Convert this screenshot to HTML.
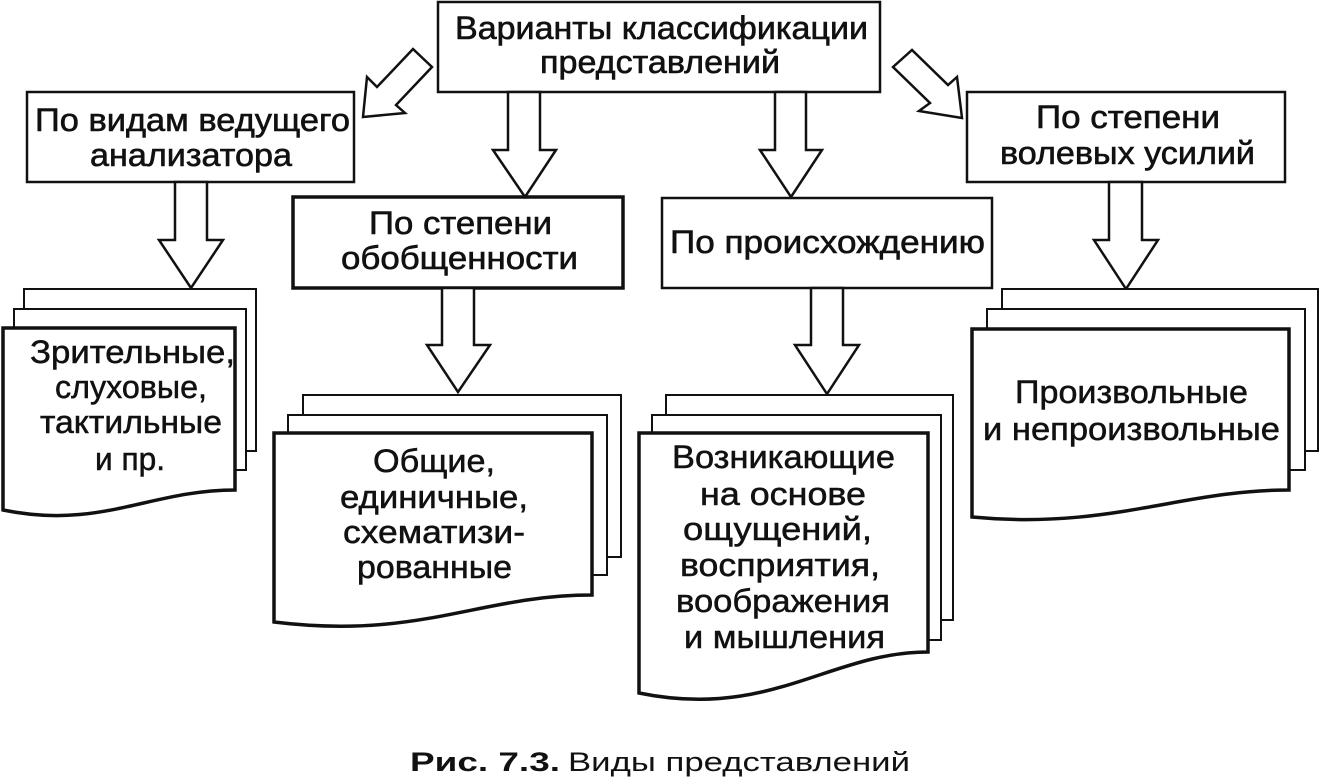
<!DOCTYPE html>
<html><head><meta charset="utf-8"><style>
html,body{margin:0;padding:0;background:#fff;}
svg{display:block;}
text{font-family:"Liberation Sans",Arial,sans-serif;fill:#111;}
</style></head><body>
<svg width="1320" height="780" viewBox="0 0 1320 780" xmlns="http://www.w3.org/2000/svg">
<g fill="#fff" stroke="#111" stroke-width="2.5" stroke-linejoin="miter">
<rect x="438" y="2" width="442" height="90"/>
<rect x="27" y="92" width="327" height="90"/>
<rect x="293" y="197" width="330" height="91" stroke-width="3.5"/>
<rect x="662" y="198" width="330" height="90"/>
<rect x="967" y="92" width="318" height="90"/>
<polygon points="432,67 413,49 377,87 367,77 363,117 405,113 396,105"/>
<polygon points="893,67 912,50 948,85 957,77 962,118 919,111 930,103"/>
<polygon points="508,92 508,150 493,150 525,197 556,150 540,150 540,92"/>
<polygon points="775,92 775,150 760,150 791,197 822,150 806,150 806,92"/>
<polygon points="175,182 175,240 159,240 191,288 223,240 207,240 207,182"/>
<polygon points="442,288 442,345 427,345 458,392 490,345 474,345 474,288"/>
<polygon points="811,288 811,345 795,345 827,394 859,345 843,345 843,288"/>
<polygon points="1109,182 1109,240 1094,240 1126,289 1158,240 1142,240 1142,182"/>
<rect x="24" y="289" width="232" height="162" stroke-width="2"/>
<rect x="14" y="309" width="232" height="161" stroke-width="2"/>
<path d="M3,328 L235,328 L235,490 C150,490 100,530 3,510 Z" stroke-width="3.5"/>
<rect x="303" y="395" width="318" height="162" stroke-width="2"/>
<rect x="288" y="415" width="319" height="160" stroke-width="2"/>
<path d="M274,433 L592,433 L592,595 C480,595 420,640 274,622 Z" stroke-width="3.5"/>
<rect x="666" y="395" width="287" height="225" stroke-width="2"/>
<rect x="652" y="415" width="289" height="225" stroke-width="2"/>
<path d="M639,433 L928,433 L928,652 C830,652 770,720 639,693 Z" stroke-width="3.5"/>
<rect x="1002" y="289" width="316" height="162" stroke-width="2"/>
<rect x="987" y="309" width="318" height="161" stroke-width="2"/>
<path d="M972,329 L1289,329 L1289,490 C1180,490 1110,530 972,517 Z" stroke-width="3.5"/>
</g>
<g font-size="32" stroke="#111" stroke-width="0.6">
<text x="455" y="39" textLength="413" lengthAdjust="spacingAndGlyphs">Варианты классификации</text>
<text x="540" y="73" textLength="240" lengthAdjust="spacingAndGlyphs">представлений</text>
<text x="35" y="131" textLength="315" lengthAdjust="spacingAndGlyphs">По видам ведущего</text>
<text x="90" y="166" textLength="202" lengthAdjust="spacingAndGlyphs">анализатора</text>
<text x="369" y="234" textLength="183" lengthAdjust="spacingAndGlyphs">По степени</text>
<text x="341" y="269" textLength="237" lengthAdjust="spacingAndGlyphs">обобщенности</text>
<text x="670" y="253" textLength="315" lengthAdjust="spacingAndGlyphs">По происхождению</text>
<text x="1036" y="128" textLength="184" lengthAdjust="spacingAndGlyphs">По степени</text>
<text x="1000" y="164" textLength="255" lengthAdjust="spacingAndGlyphs">волевых усилий</text>
</g>
<g font-size="32" stroke="#111" stroke-width="0.5">
<text x="30" y="363" textLength="205" lengthAdjust="spacingAndGlyphs">Зрительные,</text>
<text x="55" y="398" textLength="152" lengthAdjust="spacingAndGlyphs">слуховые,</text>
<text x="40" y="433" textLength="182" lengthAdjust="spacingAndGlyphs">тактильные</text>
<text x="95" y="470" textLength="70" lengthAdjust="spacingAndGlyphs">и пр.</text>
<text x="373" y="472" textLength="122" lengthAdjust="spacingAndGlyphs">Общие,</text>
<text x="340" y="508" textLength="188" lengthAdjust="spacingAndGlyphs">единичные,</text>
<text x="343" y="543" textLength="182" lengthAdjust="spacingAndGlyphs">схематизи-</text>
<text x="357" y="578" textLength="155" lengthAdjust="spacingAndGlyphs">рованные</text>
<text x="672" y="468" textLength="223" lengthAdjust="spacingAndGlyphs">Возникающие</text>
<text x="700" y="505" textLength="166" lengthAdjust="spacingAndGlyphs">на основе</text>
<text x="683" y="540" textLength="189" lengthAdjust="spacingAndGlyphs">ощущений,</text>
<text x="680" y="576" textLength="200" lengthAdjust="spacingAndGlyphs">восприятия,</text>
<text x="676" y="612" textLength="214" lengthAdjust="spacingAndGlyphs">воображения</text>
<text x="684" y="648" textLength="201" lengthAdjust="spacingAndGlyphs">и мышления</text>
<text x="1015" y="403" textLength="233" lengthAdjust="spacingAndGlyphs">Произвольные</text>
<text x="983" y="440" textLength="297" lengthAdjust="spacingAndGlyphs">и непроизвольные</text>
</g>
<text x="410" y="771" font-size="27" font-weight="bold" textLength="150" lengthAdjust="spacingAndGlyphs">Рис. 7.3.</text>
<text x="568" y="771" font-size="27" textLength="342" lengthAdjust="spacingAndGlyphs">Виды представлений</text>
</svg>
</body></html>
